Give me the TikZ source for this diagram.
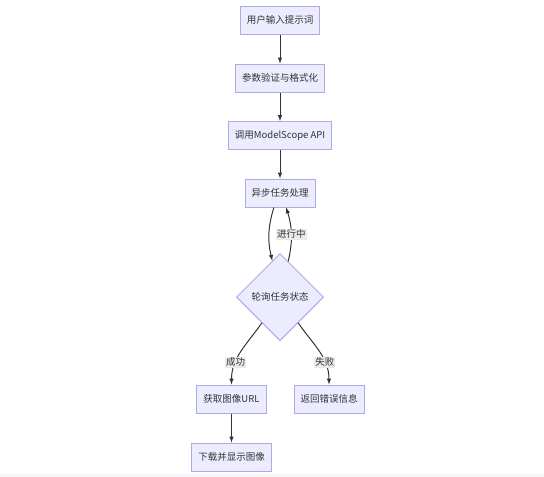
\documentclass[tikz,border=0pt]{standalone}
\usepackage{fontspec}
\setmainfont{Noto Sans CJK SC}
\usepackage{tikz}
\usetikzlibrary{shapes.geometric}
\definecolor{boxfill}{HTML}{ECECFF}
\definecolor{boxline}{HTML}{B4A6EA}
\definecolor{ink}{HTML}{333333}
\definecolor{lblfill}{HTML}{EAEAEA}
\tikzset{
    stepbox/.style={draw=boxline, fill=boxfill, line width=1pt,
        minimum height=28pt, inner xsep=6.5pt, text=ink,
        font=\fontsize{9.5}{11}\selectfont}, % preset style for a process box
    choice/.style={diamond, draw=boxline, fill=boxfill, line width=1pt,
        inner sep=0pt, minimum width=87pt, minimum height=87pt, text=ink,
        font=\fontsize{9.5}{11}\selectfont}, % preset style for the decision
    flow/.style={draw=ink, line width=1pt, -latex},
    lbl/.style={fill=lblfill, inner sep=1pt, text=ink,
        font=\fontsize{9.5}{11}\selectfont},
}

\begin{document}
\begin{tikzpicture}[x=1pt, y=1pt]
        \useasboundingbox (0, 0) rectangle (544, -477);
        \fill[fill=gray, opacity=0.07] (0, -474) rectangle (544, -477);
        \begin{scope}
            \node[stepbox] (input) at (280, -20) {用户输入提示词};
            \node[stepbox] (check) at (280, -78) {参数验证与格式化};
            \node[stepbox] (call) at (280, -135.5) {调用ModelScope API};
            \node[stepbox] (proc) at (280, -193) {异步任务处理};
            \node[choice] (poll) at (280, -297) {轮询任务状态};
            \node[stepbox] (geturl) at (231.5, -399) {获取图像URL};
            \node[stepbox] (fail) at (329, -399) {返回错误信息};
            \node[stepbox] (show) at (231.5, -457) {下载并显示图像};
        \end{scope}
        \begin{scope}
            \draw[flow] (input) -- (check);
            \draw[flow] (check) -- (call);
            \draw[flow] (call) -- (proc);
            \draw[flow] (proc.-113) to[bend right=15] (poll.102);
            \draw[flow] (poll.77) to[bend right=15] node[lbl] {进行中} (proc.-67);
            \draw[flow] (poll.-125) to[out=-125, in=90] node[lbl, pos=0.68] {成功} (geturl.north);
            \draw[flow] (poll.-55) to[out=-55, in=90] node[lbl, pos=0.68] {失败} (fail.north);
            \draw[flow] (geturl) -- (show);
        \end{scope}
    \end{tikzpicture}
\end{document}
